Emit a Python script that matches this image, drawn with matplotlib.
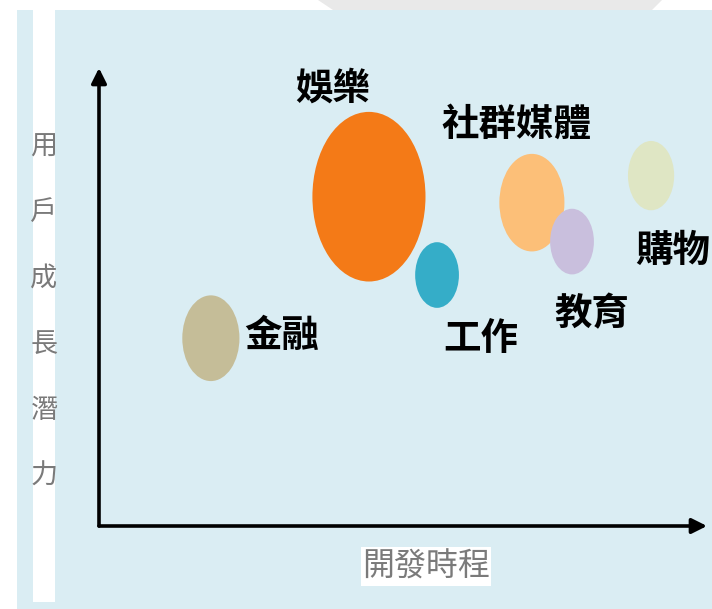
import numpy as np
import matplotlib
matplotlib.use('Agg')
from matplotlib import pyplot as plt
from matplotlib.patches import Ellipse, Rectangle, Polygon

plt.rcParams['font.family'] = ['Noto Sans CJK TC', 'DejaVu Sans']

# bubble data: x = 開發時程, y = 用戶成長潛力, size = bubble width (x units)
categories = ['金融', '娛樂', '工作', '社群媒體', '教育', '購物']
dev_time = [1.84, 4.44, 5.56, 7.12, 7.78, 9.08]
growth = [4.10, 7.19, 5.48, 7.06, 6.21, 7.65]
bubble_size = [0.94, 1.86, 0.72, 1.07, 0.72, 0.76]
colors = ['#c5bd98', '#f47a17', '#35adc8', '#fcbf78', '#c9bfdd', '#dfe6c4']

# label placement (data units)
label_x = [3.01, 3.85, 6.28, 6.86, 8.11, 9.44]
label_y = [4.17, 9.56, 4.10, 8.77, 4.63, 6.01]

ylabel_chars = '用戶成長潛力'
xlabel = '開發時程'

W, H = 712, 609
fig = plt.figure(figsize=(W/100, H/100), dpi=100)
fig.patch.set_facecolor('white')

def fx(px): return px/W
def fy(py): return 1 - py/H

def bg(p, z=-10):
    p.set_zorder(z)
    fig.patches.append(p)

# background panel + white strip for the y label
bg(Polygon([(fx(318), fy(0)), (fx(333), fy(10)), (fx(652), fy(10)), (fx(662), fy(0))],
           closed=True, transform=fig.transFigure, facecolor='#e9e9e9', edgecolor='none'))
bg(Rectangle((fx(17), 0), fx(712-17), fy(10), transform=fig.transFigure,
             facecolor='#daedf3', edgecolor='none'))
bg(Rectangle((fx(33), fy(602)), fx(55-33), (602-10)/H, transform=fig.transFigure,
             facecolor='white', edgecolor='none'), -9)

# y label, one character per line
for i, ch in enumerate(ylabel_chars):
    fig.text(fx(44), fy(147 + i*65.8), ch, ha='center', va='center', fontsize=19.5, color='#7a7a7a')

# x label in white box
bg(Rectangle((fx(361), fy(586)), fx(491-361), (586-547)/H, transform=fig.transFigure,
             facecolor='white', edgecolor='none'), -9)
fig.text(fx(426), fy(567), xlabel, ha='center', va='center', fontsize=23, color='#7a7a7a')

ox, oy = 99, 526
ax = fig.add_axes([fx(ox), fy(oy), fx(707-ox), (oy-68)/H])
ax.set_xlim(0, 10)
ax.set_ylim(0, 10)
ax.axis('off')

# axis arrows
arrow = dict(arrowstyle='-|>,head_length=0.9,head_width=0.45', color='black', lw=2.6, shrinkA=0, shrinkB=0)
ax.annotate('', xy=(1, 0), xytext=(0, 0), xycoords='axes fraction', arrowprops=arrow, annotation_clip=False)
ax.annotate('', xy=(0, 1), xytext=(0, 0), xycoords='axes fraction', arrowprops=arrow, annotation_clip=False)

# bubbles (stretched vertically as in the source)
ppx = (707-ox)/10.0
ppy = (oy-68)/10.0
stretch = 1.5
for x, y, s, c in zip(dev_time, growth, bubble_size, colors):
    ax.add_patch(Ellipse((x, y), s, s*ppx*stretch/ppy, facecolor=c, edgecolor='none'))

for name, lx, ly in zip(categories, label_x, label_y):
    ax.text(lx, ly, name, ha='center', va='center', fontsize=27, fontweight='bold', color='black')

plt.savefig('out.png', dpi=100)
print('done')
